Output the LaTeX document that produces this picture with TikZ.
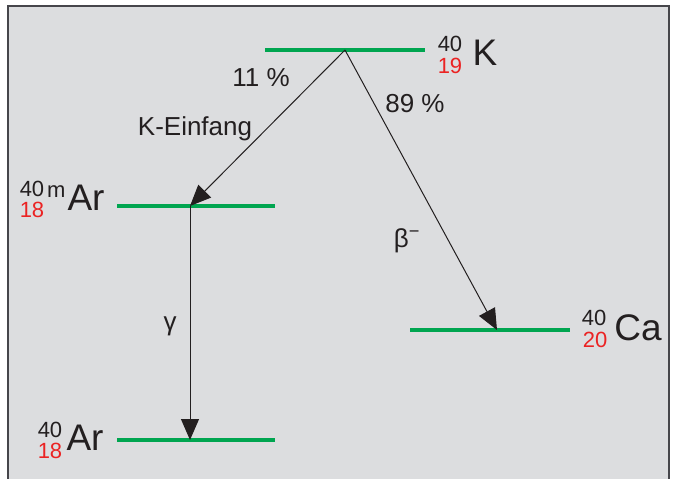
\documentclass[tikz,border=0pt]{standalone}
\usepackage{fontspec}
\setmainfont{Liberation Sans}
\usetikzlibrary{arrows.meta}
\definecolor{bggray}{RGB}{220,221,223}
\definecolor{framegray}{RGB}{70,70,75}
\definecolor{lvlgreen}{RGB}{0,165,80}
\definecolor{nucred}{RGB}{235,35,35}
\definecolor{ink}{RGB}{35,31,32}
\begin{document}
\begin{tikzpicture}[
  x=1pt,y=-1pt,
  >={Triangle[length=21pt,width=18pt]},
  lvl/.style={line width=4pt,draw=lvlgreen},
  e/.style={->,line width=1pt,ink},
  lab/.style={inner sep=0pt,text=ink,font=\fontsize{26}{30}\selectfont},
  mass/.style={inner sep=0pt,text=ink,font=\fontsize{22}{26}\selectfont},
  charge/.style={mass,text=nucred},
  elem/.style={inner sep=0pt,text=ink,font=\fontsize{37}{42}\selectfont}
]
\useasboundingbox (0,0) rectangle (673,479);
\fill[bggray] (8,6) rectangle (669,479);
\draw[framegray,line width=2pt] (8,479) -- (8,6) -- (669,6) -- (669,479);

% levels
\coordinate (k) at (345,50);
\coordinate (arm) at (190,206);
\coordinate (ca) at (497,330);
\coordinate (ar) at (190,440);
\draw[lvl] (265,50) -- (425,50);
\draw[lvl] (117,206) -- (275,206);
\draw[lvl] (410,330) -- (570,330);
\draw[lvl] (117,440) -- (275,440);

% transitions
\draw[e] (k) -- (arm);
\draw[e] (k) -- (ca);
\draw[e] (arm) -- (ar);

\node[lab,anchor=base] (pk) at (261,86) {11 \%};
\node[lab,anchor=base] (ke) at (195,135) {K-Einfang};
\node[lab,anchor=base] (pb) at (415,112) {89 \%};
\node[lab,anchor=base] (beta) at (407,247) {β\textsuperscript{−}};
\node[lab] (gam) at (170,326) {γ};

% nuclides
\node[mass] (kA) at (450,44) {40};
\node[charge] (kZ) at (450,66) {19};
\node[elem] (kX) at (485,53) {K};

\node[mass] (armA) at (32,189) {40};
\node[mass,anchor=base west] (armM) at (47,197) {m};
\node[charge] (armZ) at (32,210) {18};
\node[elem] (armX) at (86,198) {Ar};

\node[mass] (caA) at (594,318) {40};
\node[charge] (caZ) at (595,340) {20};
\node[elem] (caX) at (638,328) {Ca};

\node[mass] (arA) at (50,430) {40};
\node[charge] (arZ) at (50,451) {18};
\node[elem] (arX) at (85,438) {Ar};
\end{tikzpicture}
\end{document}
